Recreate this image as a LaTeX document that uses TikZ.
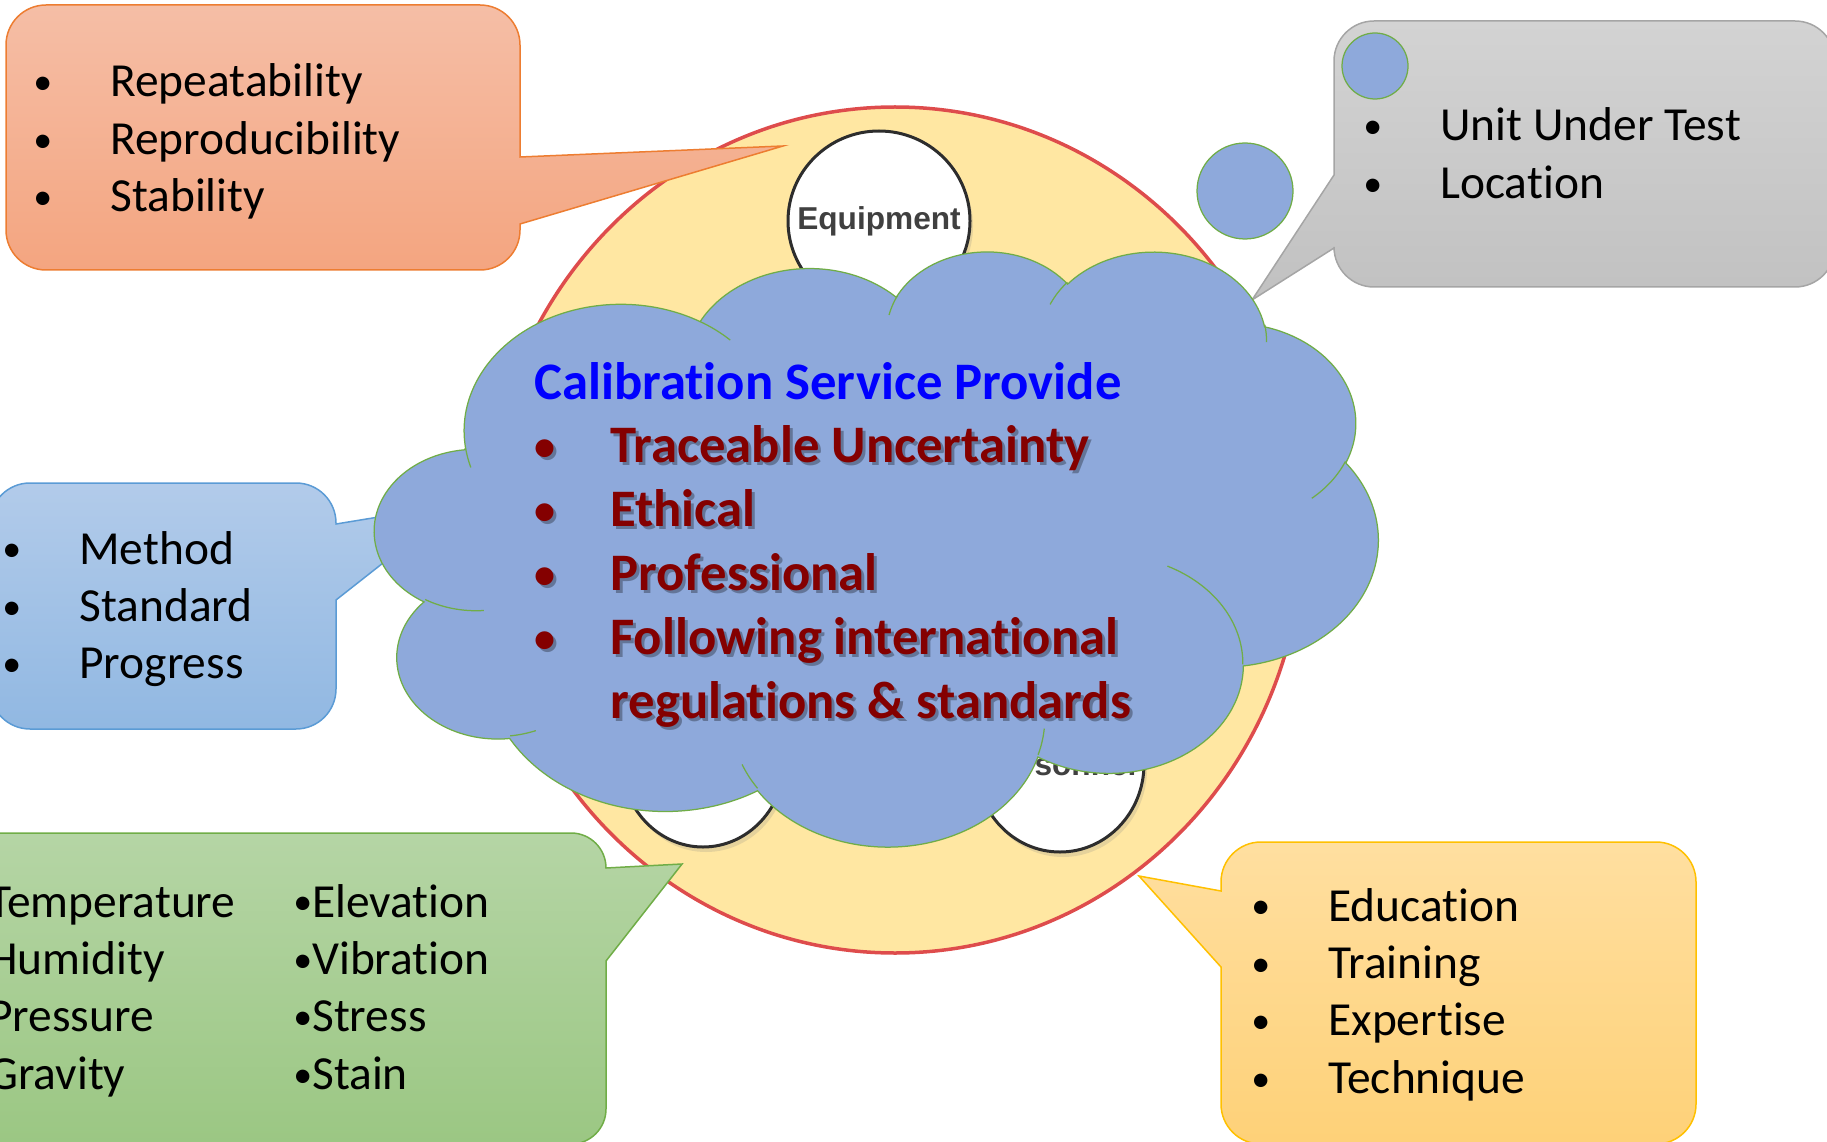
\documentclass[tikz,border=0pt]{standalone}
\usepackage{fontspec}
\setmainfont{Carlito}[Ligatures=NoCommon]
\newfontfamily\spotfont{Liberation Sans}
\usetikzlibrary{shapes.geometric,shadows}

\definecolor{ringfill}{RGB}{255,231,162}
\definecolor{ringedge}{RGB}{222,76,76}
\definecolor{spotedge}{RGB}{45,45,45}
\definecolor{spottext}{RGB}{64,64,64}
\definecolor{cloudfill}{RGB}{142,169,219}
\definecolor{cloudedge}{RGB}{112,173,71}
\definecolor{titleblue}{RGB}{0,0,255}
\definecolor{itemred}{RGB}{132,0,0}
\definecolor{orangetop}{RGB}{245,190,166}
\definecolor{orangebot}{RGB}{244,165,128}
\definecolor{orangeedge}{RGB}{237,125,49}
\definecolor{greytop}{RGB}{211,211,211}
\definecolor{greybot}{RGB}{193,193,193}
\definecolor{greyedge}{RGB}{165,165,165}
\definecolor{bluetop}{RGB}{178,203,234}
\definecolor{bluebot}{RGB}{145,184,226}
\definecolor{blueedge}{RGB}{91,155,213}
\definecolor{greentop}{RGB}{181,213,165}
\definecolor{greenbot}{RGB}{155,199,131}
\definecolor{greenedge}{RGB}{112,173,71}
\definecolor{goldtop}{RGB}{255,223,160}
\definecolor{goldbot}{RGB}{254,209,120}
\definecolor{goldedge}{RGB}{255,192,0}

\newcommand{\dotmark}{\raisebox{0.05em}{\scalebox{0.8}{\textbullet}}}
\newcommand{\servicelist}[2]{%
  \begin{tabular}[t]{@{}p{15.2mm}@{}l@{}}
  \multicolumn{2}{@{}l@{}}{#1{Calibration Service Provide}}\\
  \textcolor{#2}{\dotmark} & \textcolor{#2}{Traceable Uncertainty}\\
  \textcolor{#2}{\dotmark} & \textcolor{#2}{Ethical}\\
  \textcolor{#2}{\dotmark} & \textcolor{#2}{Professional}\\
  \textcolor{#2}{\dotmark} & \textcolor{#2}{Following international}\\
   & \textcolor{#2}{regulations \& standards}
  \end{tabular}}

\begin{document}
\begin{tikzpicture}[x=0.2mm, y=-0.2mm,
  ring/.style={fill=ringfill, draw=ringedge, line width=0.7mm},
  spot/.style={ellipse, draw=spotedge, fill=white, line width=0.6mm, inner sep=0pt,
    drop shadow={opacity=0.2, shadow xshift=0.6mm, shadow yshift=-1mm}},
  spotlabel/.style={font=\spotfont\bfseries\fontsize{18}{20}\selectfont, text=spottext},
  callout/.style={line width=0.3mm},
  orangebox/.style={callout, draw=orangeedge, top color=orangetop, bottom color=orangebot},
  greybox/.style={callout, draw=greyedge, top color=greytop, bottom color=greybot},
  bluebox/.style={callout, draw=blueedge, top color=bluetop, bottom color=bluebot},
  greenbox/.style={callout, draw=greenedge, top color=greentop, bottom color=greenbot},
  goldbox/.style={callout, draw=goldedge, top color=goldtop, bottom color=goldbot},
  puff/.style={fill=cloudfill, draw=cloudedge, line width=0.25mm},
  puffline/.style={draw=cloudedge, line width=0.25mm},
  boxtext/.style={anchor=base west, inner sep=0pt, font=\fontsize{27}{32.7}\selectfont},
  cloudtext/.style={anchor=base west, inner sep=0pt, font=\bfseries\fontsize{30}{36.4}\selectfont}]

\useasboundingbox (0,0) rectangle (1827,1142);

\draw[ring] (895,530) ellipse [x radius=408, y radius=423];
\node[spot, minimum width=36.4mm, minimum height=36mm] (equip) at (879,221) {};
\node[spot, minimum width=32.8mm, minimum height=35.2mm] (envspot) at (703,759) {};
\node[spot, minimum width=33.6mm, minimum height=35.2mm] (persspot) at (1060,764) {};
\node[spotlabel] (equiplabel) at (equip) {Equipment};
\node[spotlabel] (perslabel) at (persspot) {Personnel};

\path[orangebox] (783,146) -- (520,224) -- (520,230) arc[start angle=0, end angle=90, radius=40]
  -- (46,270) arc[start angle=90, end angle=180, radius=40]
  -- (6,45) arc[start angle=180, end angle=270, radius=40]
  -- (480,5) arc[start angle=270, end angle=360, radius=40] -- (520,157) -- cycle;
\path[greybox] (1252,300) -- (1334,175) -- (1334,61) arc[start angle=180, end angle=270, radius=40]
  -- (1795,21) arc[start angle=270, end angle=360, radius=40]
  -- (1835,247) arc[start angle=0, end angle=90, radius=40]
  -- (1374,287) arc[start angle=90, end angle=180, radius=40] -- (1334,248) -- cycle;
\path[bluebox] (458,504) -- (336,600) -- (336,689) arc[start angle=0, end angle=90, radius=40]
  -- (30,729) arc[start angle=90, end angle=180, radius=40]
  -- (-10,523) arc[start angle=180, end angle=270, radius=40]
  -- (296,483) arc[start angle=270, end angle=360, radius=40] -- (336,524) -- cycle;
\path[greenbox] (682,864) -- (606,961) -- (606,1109) arc[start angle=0, end angle=90, radius=35]
  -- (-5,1144) arc[start angle=90, end angle=180, radius=35]
  -- (-40,868) arc[start angle=180, end angle=270, radius=35]
  -- (571,833) arc[start angle=270, end angle=360, radius=35] -- (606,868) -- cycle;
\path[goldbox] (1139,876) -- (1221,891) -- (1221,882) arc[start angle=180, end angle=270, radius=40]
  -- (1656,842) arc[start angle=270, end angle=360, radius=40]
  -- (1696,1104) arc[start angle=0, end angle=90, radius=40]
  -- (1261,1144) arc[start angle=90, end angle=180, radius=40] -- (1221,967) -- cycle;

\begin{scope}[shift={(375,250)}, x=0.046435cm, y=-0.027546cm]
\path[puff] (39.00,143.70)
  arc[start angle=172.26, end angle=300.36, x radius=67.53, y radius=91.90]
  arc[start angle=-152.01, end angle=-45.46, x radius=53.33, y radius=72.67]
  arc[start angle=-153.50, end angle=-37.31, x radius=43.65, y radius=59.45]
  arc[start angle=-139.71, end angle=-10.21, x radius=48.57, y radius=65.95]
  arc[start angle=-74.77, end angle=23.21, x radius=53.33, y radius=72.73]
  arc[start angle=-37.52, end angle=81.86, x radius=67.75, y radius=92.20]
  arc[start angle=0.46, end angle=121.98, x radius=57.85, y radius=78.67]
  arc[start angle=16.84, end angle=146.23, x radius=67.52, y radius=92.15]
  arc[start angle=58.98, end angle=150.19, x radius=77.20, y radius=105.43]
  arc[start angle=83.31, end angle=223.10, x radius=43.60, y radius=59.18]
  arc[start angle=120.35, end angle=264.11, x radius=43.45, y radius=59.45]
  -- cycle;
\draw[puffline] (46.93,261.77) arc[start angle=85.55, end angle=120.35, x radius=43.45, y radius=59.45];
\draw[puffline] (69.28,348.99) arc[start angle=68.24, end angle=83.31, x radius=43.60, y radius=59.18];
\draw[puffline] (164.78,390.90) arc[start angle=146.23, end angle=158.47, x radius=67.52, y radius=92.15];
\draw[puffline] (288.27,347.51) arc[start angle=4.74, end angle=16.84, x radius=67.52, y radius=92.15];
\draw[puffline] (341.29,229.54) arc[start angle=-64.03, end angle=0.46, x radius=57.85, y radius=78.67];
\draw[puffline] (417.98,153.54) arc[start angle=23.21, end angle=49.64, x radius=53.33, y radius=72.73];
\draw[puffline] (383.24,54.26) arc[start angle=-10.21, end angle=0.82, x radius=48.57, y radius=65.95];
\draw[puffline] (290.78,39.52) arc[start angle=-156.29, end angle=-139.71, x radius=48.57, y radius=65.95];
\draw[puffline] (221.41,47.20) arc[start angle=-167.73, end angle=-153.53, x radius=43.65, y radius=59.45];
\draw[puffline] (140.00,51.92) arc[start angle=-59.64, end angle=-45.73, x radius=67.53, y radius=91.90];
\draw[puffline] (41.27,157.89) arc[start angle=163.19, end angle=172.26, x radius=67.53, y radius=91.90];
\end{scope}

\draw[puff] (1245,191) circle [radius=48];
\draw[puff] (1375,66) circle [radius=33];

\node[boxtext] (orangelist) at (33,97) {\begin{tabular}[t]{@{}p{15.4mm}@{}l@{}}
  \dotmark & Repeatability\\ \dotmark & Reproducibility\\ \dotmark & Stability\end{tabular}};
\node[boxtext] (greylist) at (1363,141) {\begin{tabular}[t]{@{}p{15.4mm}@{}l@{}}
  \dotmark & Unit Under Test\\ \dotmark & Location\end{tabular}};
\node[boxtext] (bluelist) at (2,564) {\begin{tabular}[t]{@{}p{15.4mm}@{}l@{}}
  \dotmark & Method\\ \dotmark & Standard\\ \dotmark & Progress\end{tabular}};
\node[boxtext] (greenlist) at (-31,917) {\begin{tabular}[t]{@{}p{64.8mm}@{}l@{}}
  \dotmark Temperature & \dotmark Elevation\\ \dotmark Humidity & \dotmark Vibration\\
  \dotmark Pressure & \dotmark Stress\\ \dotmark Gravity & \dotmark Stain\end{tabular}};
\node[boxtext] (goldlist) at (1251,921) {\begin{tabular}[t]{@{}p{15.4mm}@{}l@{}}
  \dotmark & Education\\ \dotmark & Training\\ \dotmark & Expertise\\ \dotmark & Technique\end{tabular}};

\node[cloudtext, text opacity=0.3] (serviceshadow) at (537,402) {\servicelist{\phantom}{black}};
\node[cloudtext] (service) at (534,399) {\servicelist{\textcolor{titleblue}}{itemred}};

\end{tikzpicture}
\end{document}
